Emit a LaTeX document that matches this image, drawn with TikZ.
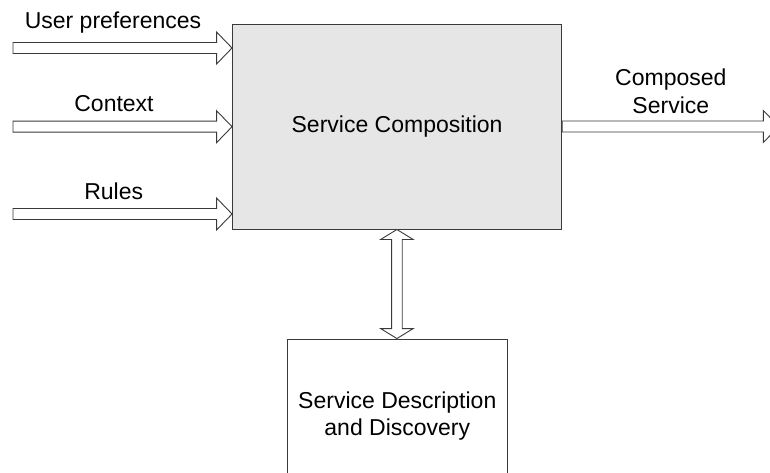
\documentclass[tikz,border=0pt]{standalone}
\usepackage{fontspec}
\setmainfont{Liberation Sans}
\usetikzlibrary{calc}

\definecolor{edgegray}{HTML}{3A3A3A}
\definecolor{boxfill}{HTML}{E6E6E6}

% horizontal block arrow from #1 to the tip #2 (shaft 11, head 32 x 15.5)
\newcommand\blockharrow[2]{%
  \draw[blockarrow] ($(#1)+(0,-5.5)$) -- ($(#2)+(-15.5,-5.5)$)
    -- ($(#2)+(-15.5,-16)$) -- (#2) -- ($(#2)+(-15.5,16)$)
    -- ($(#2)+(-15.5,5.5)$) -- ($(#1)+(0,5.5)$) -- cycle;}

\begin{document}
\begin{tikzpicture}[x=1pt,y=-1pt,
  every node/.style={font=\fontsize{23}{27.3}\selectfont, text=black},
  blockarrow/.style={draw=edgegray, fill=white, line width=0.9pt, line join=miter},
  mainbox/.style={draw=edgegray, fill=boxfill, line width=0.9pt, rectangle,
    minimum width=329.2pt, minimum height=205.5pt, inner sep=0pt},
  subbox/.style={draw=edgegray, fill=white, line width=0.9pt, rectangle,
    minimum width=220pt, minimum height=154pt, inner sep=0pt, align=center},
  lbl/.style={anchor=base, inner sep=0pt}]

\useasboundingbox (0,0) rectangle (770,473);
\clip (0,0) rectangle (770,473);

% boxes
\node[mainbox] (comp) at (397.1,126.75) {Service Composition};
\node[subbox] (disc) at (397.3,416) {Service Description\\and Discovery};

% inputs
\coordinate (up0) at (13,48);
\coordinate (ctx0) at (13,126.7);
\coordinate (rul0) at (13,214);
\coordinate (up1) at (comp.west |- up0);
\coordinate (ctx1) at (comp.west |- ctx0);
\coordinate (rul1) at (comp.west |- rul0);
\blockharrow{up0}{up1}
\blockharrow{ctx0}{ctx1}
\blockharrow{rul0}{rul1}

\node[lbl] (uplbl) at (113,29) {User preferences};
\node[lbl] (ctxlbl) at (114,111.7) {Context};
\node[lbl] (rullbl) at (113.7,199) {Rules};

% output
\coordinate (out0) at (comp.east |- 0,126.5);
\coordinate (out1) at (778.8,126.5);
\blockharrow{out0}{out1}
\node[align=center, inner sep=0pt] (outlbl) at (670.8,91.4) {Composed\\Service};

% two-way link between composition and discovery
\coordinate (lt) at (396.9,229.5);
\coordinate (lb) at (disc.north -| lt);
\draw[blockarrow] (lt) -- ($(lt)+(-16.3,10)$) -- ($(lt)+(-5.3,10)$)
  -- ($(lb)+(-5.3,-10)$) -- ($(lb)+(-16.3,-10)$) -- (lb)
  -- ($(lb)+(16.3,-10)$) -- ($(lb)+(5.3,-10)$)
  -- ($(lt)+(5.3,10)$) -- ($(lt)+(16.3,10)$) -- cycle;
\end{tikzpicture}
\end{document}
